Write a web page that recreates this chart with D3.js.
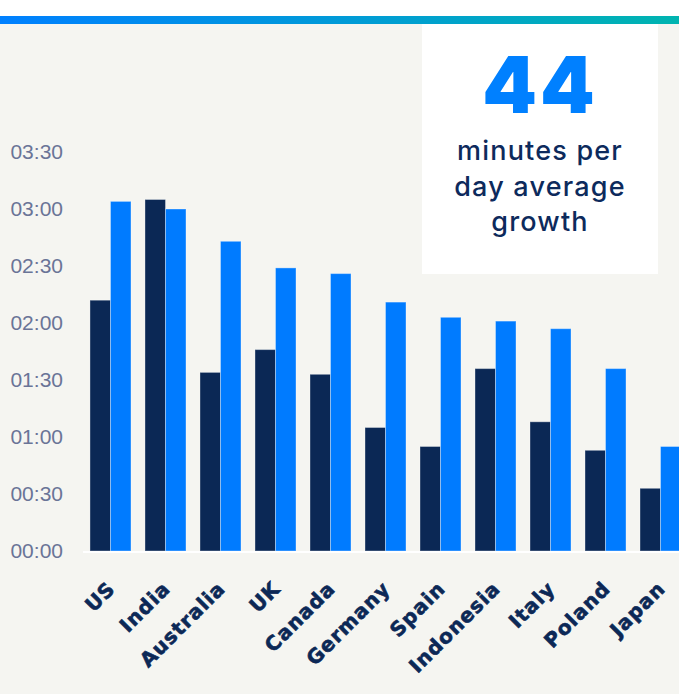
<!DOCTYPE html>
<html>
<head>
  <meta charset="utf-8">
  <script src="https://d3js.org/d3.v7.min.js"></script>
  <style>
    body { margin: 0; background: #fff; }
    .ylab { font-family: "Liberation Sans", Arial, sans-serif; font-size: 21px; fill: #6a7497; }
    .xlab { font-family: "DejaVu Sans", sans-serif; font-size: 20px; font-weight: bold; fill: #0c2856; stroke: #0c2856; stroke-width: 0.6px; letter-spacing: 1px; }
    .big { font-family: Inter, sans-serif; font-size: 78px; font-weight: 900; fill: #0080ff; }
    .note { font-family: Inter, "Open Sans", sans-serif; font-size: 27px; font-weight: 500; fill: #0d2a5c; letter-spacing: 1.2px; }
  </style>
</head>
<body>
<script>
  var width = 679,
      height = 694;

  // minutes per day
  var countries = ["US", "India", "Australia", "UK", "Canada", "Germany", "Spain", "Indonesia", "Italy", "Poland", "Japan"];
  var series = ["before", "after"];
  var before = [132, 185, 94, 106, 93, 65, 55, 96, 68, 53, 33];
  var after = [184, 180, 163, 149, 146, 131, 123, 121, 117, 96, 55];
  var yTicks = [0, 30, 60, 90, 120, 150, 180, 210];
  var noteLines = ["minutes per", "day average", "growth"];
  var bigNumber = "44";

  var colors = { before: "#0b2855", after: "#007bff" };

  var svg = d3.select("body")
      .append("svg")
      .attr("width", width)
      .attr("height", height);

  var defs = svg.append("defs");
  var grad = defs.append("linearGradient").attr("id", "topbar");
  grad.append("stop").attr("offset", "0%").attr("stop-color", "#0080ff");
  grad.append("stop").attr("offset", "100%").attr("stop-color", "#00b4b0");

  svg.append("rect")
      .attr("x", 0).attr("y", 24)
      .attr("width", width).attr("height", height - 24)
      .attr("fill", "#f5f5f1");

  svg.append("rect")
      .attr("x", 0).attr("y", 16)
      .attr("width", width).attr("height", 8)
      .attr("fill", "url(#topbar)");

  // callout box
  svg.append("rect")
      .attr("x", 422).attr("y", 24)
      .attr("width", 236).attr("height", 250)
      .attr("fill", "#fff");

  svg.append("text")
      .attr("class", "big")
      .attr("x", 540).attr("y", 113)
      .attr("text-anchor", "middle")
      .attr("letter-spacing", "3px")
      .text(bigNumber);

  svg.selectAll(".note")
      .data(noteLines)
      .enter().append("text")
      .attr("class", "note")
      .attr("x", 540)
      .attr("y", function(d, i) { return 160 + i * 35.5; })
      .attr("text-anchor", "middle")
      .text(function(d) { return d; });

  var x0 = d3.scaleBand()
      .domain(countries)
      .range([83, 688])
      .paddingInner(0.2545)
      .paddingOuter(0.127);

  var x1 = d3.scaleBand()
      .domain(series)
      .range([0, x0.bandwidth()]);

  var y = d3.scaleLinear()
      .domain([0, 210])
      .range([551, 152]);

  function fmt(m) {
    var h = Math.floor(m / 60), mm = m % 60;
    return String(h).padStart(2, "0") + ":" + String(mm).padStart(2, "0");
  }

  var yAxis = svg.append("g")
      .attr("transform", "translate(63,0)")
      .call(d3.axisLeft(y).tickValues(yTicks).tickFormat(fmt).tickSize(0).tickPadding(0));
  yAxis.select(".domain").remove();
  yAxis.selectAll("text").attr("class", "ylab").attr("fill", null).attr("font-family", null).attr("font-size", null);

  var rows = countries.map(function(c, i) {
    return { country: c, before: before[i], after: after[i] };
  });

  var groups = svg.selectAll(".grp")
      .data(rows)
      .enter().append("g")
      .attr("class", "grp")
      .attr("transform", function(d) { return "translate(" + x0(d.country) + ",0)"; });

  groups.selectAll("rect")
      .data(function(d) { return series.map(function(s) { return { key: s, value: d[s] }; }); })
      .enter().append("rect")
      .attr("x", function(d) { return x1(d.key); })
      .attr("y", function(d) { return y(d.value); })
      .attr("width", x1.bandwidth())
      .attr("height", function(d) { return y(0) - y(d.value); })
      .attr("fill", function(d) { return colors[d.key]; })
      .attr("stroke", "#ffffff")
      .attr("stroke-opacity", 0.35)
      .attr("stroke-width", 1);

  svg.append("line")
      .attr("x1", 83).attr("x2", width)
      .attr("y1", 552).attr("y2", 552)
      .attr("stroke", "#fff")
      .attr("stroke-width", 2);

  svg.selectAll(".xlab")
      .data(countries)
      .enter().append("text")
      .attr("class", "xlab")
      .attr("text-anchor", "end")
      .attr("transform", function(d) {
        var cx = x0(d) + x0.bandwidth() / 2 + 6;
        return "translate(" + cx + ",590) rotate(-45)";
      })
      .text(function(d) { return d; });
</script>
</body>
</html>
